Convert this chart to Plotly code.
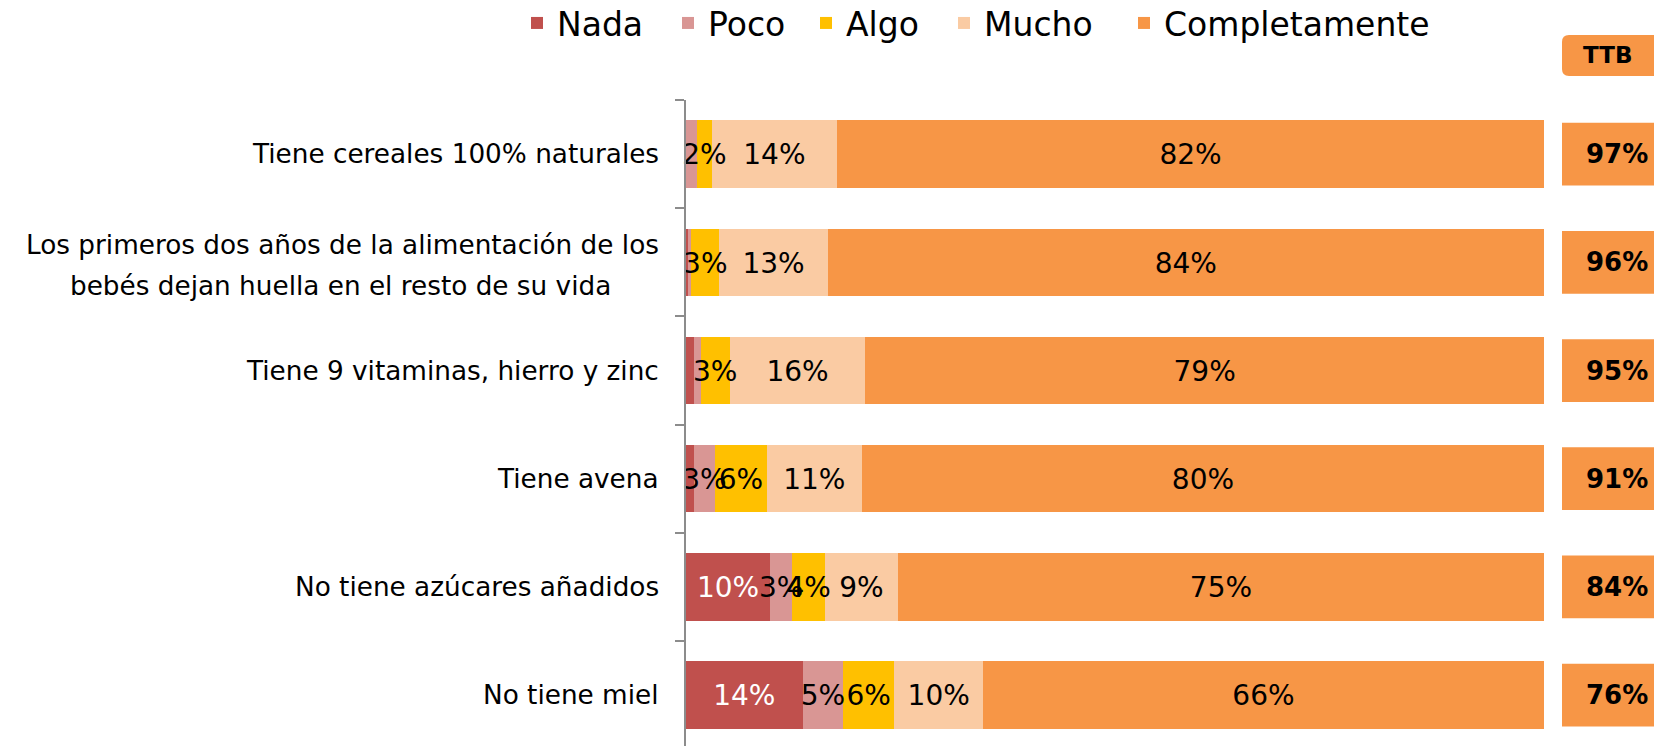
import numpy as np
import plotly.graph_objects as go

categories = [
    "Tiene cereales 100% naturales",
    "Los primeros dos años de la alimentación de los<br>bebés dejan huella en el resto de su vida",
    "Tiene 9 vitaminas, hierro y zinc",
    "Tiene avena",
    "No tiene azúcares añadidos",
    "No tiene miel",
]
series_names = ["Nada", "Poco", "Algo", "Mucho", "Completamente"]

nada = [0.0, 0.2, 0.9, 0.9, 9.8, 13.6]
poco = [1.3, 0.4, 0.8, 2.5, 2.6, 4.7]
algo = [1.7, 3.3, 3.4, 6.0, 3.8, 6.0]
mucho = [14.6, 12.6, 15.8, 11.1, 8.5, 10.3]
completamente = [82.4, 83.5, 79.1, 79.5, 75.3, 65.4]

nada_labels = ["", "", "", "", "10%", "14%"]
poco_labels = ["", "", "", "3%", "3%", "5%"]
algo_labels = ["2%", "3%", "3%", "6%", "4%", "6%"]
mucho_labels = ["14%", "13%", "16%", "11%", "9%", "10%"]
completamente_labels = ["82%", "84%", "79%", "80%", "75%", "66%"]

ttb_values = ["97%", "96%", "95%", "91%", "84%", "76%"]
ttb_header = "TTB"

colors = ["#C0504D", "#D99694", "#FFC000", "#FACBA3", "#F79646"]
text_colors = ["#FFFFFF", "#000000", "#000000", "#000000", "#000000"]

FONT = "DejaVu Sans"
W, H = 1654, 746
ML, MT = 686, 100
PW, PH = W - ML, H - MT
Y_RANGE = [5.47, -0.5]
TEXT_DROP = 0.03  # category units, nudges segment labels slightly down


def px_x(px):
    return (px - ML) / PW


def px_y(py):
    return 1 + (MT - py) / PH


legend_ids = ["legend", "legend2", "legend3", "legend4", "legend5"]
legend_text_x = [558, 709, 847, 985, 1165]

fig = go.Figure()
all_vals = [nada, poco, algo, mucho, completamente]
all_labels = [nada_labels, poco_labels, algo_labels, mucho_labels, completamente_labels]
for name, vals, c, lg in zip(series_names, all_vals, colors, legend_ids):
    fig.add_trace(go.Bar(
        name=name, y=categories, x=vals, orientation="h",
        marker=dict(color=c, line=dict(width=0)),
        hoverinfo="skip", legend=lg,
    ))

# Segment labels drawn above all bars, at each segment's middle
vals_arr = np.array(all_vals, dtype=float)
ends = np.cumsum(vals_arr, axis=0)
mids = ends - vals_arr / 2
for s, (labels, tc) in enumerate(zip(all_labels, text_colors)):
    fig.add_trace(go.Scatter(
        x=mids[s], y=categories, mode="text", text=labels,
        textposition="middle center", yaxis="y2",
        textfont=dict(family=FONT, size=28, color=tc),
        showlegend=False, hoverinfo="skip", cliponaxis=False,
    ))

legend_layout = {}
for lg, tx in zip(legend_ids, legend_text_x):
    legend_layout[lg] = dict(
        orientation="h", x=px_x(tx - 41), xanchor="left",
        y=px_y(23), yanchor="middle",
        font=dict(family=FONT, size=33, color="#000000"),
        itemwidth=30, bgcolor="rgba(0,0,0,0)",
    )

fig.update_layout(
    width=W, height=H,
    margin=dict(l=ML, r=0, t=MT, b=0, autoexpand=False),
    barmode="stack", bargap=0.376,
    plot_bgcolor="white", paper_bgcolor="white",
    font=dict(family=FONT, color="#000000"),
    xaxis=dict(domain=[0, px_x(1544)], range=[0, 100], visible=False, fixedrange=True),
    yaxis=dict(
        type="category", categoryorder="array", categoryarray=categories,
        range=Y_RANGE, autorange=False,
        showline=True, linecolor="#8C8C8C", linewidth=2,
        ticks="outside", tickson="boundaries", ticklen=9, tickcolor="#8C8C8C", tickwidth=2,
        showticklabels=False,
        showgrid=False, zeroline=False, fixedrange=True,
    ),
    yaxis2=dict(
        type="category", categoryorder="array", categoryarray=categories,
        range=[Y_RANGE[0] - TEXT_DROP, Y_RANGE[1] - TEXT_DROP], autorange=False,
        overlaying="y", visible=False, fixedrange=True,
    ),
    showlegend=True,
    **legend_layout,
)

# Category labels: lines centred on each other, right edge near the axis
for cat in categories:
    lines = cat.split("<br>")
    if len(lines) == 1:
        fig.add_annotation(
            x=px_x(661), xref="paper", xanchor="right",
            y=cat, yref="y", yanchor="middle",
            text=cat, showarrow=False,
            font=dict(family=FONT, size=26.3, color="#000000"),
        )
    else:
        for line, ys, right in zip(lines, [17.5, -23.5], [661, 613]):
            fig.add_annotation(
                x=px_x(right), xref="paper", xanchor="right",
                y=cat, yref="y", yanchor="middle",
                text=line, showarrow=False, yshift=ys,
                font=dict(family=FONT, size=26.3, color="#000000"),
            )

# TTB value boxes (shapes) and texts
for i, (cat, v) in enumerate(zip(categories, ttb_values)):
    fig.add_shape(type="rect", xref="paper", yref="y",
                  x0=px_x(1562), x1=1.02, y0=i - 0.29, y1=i + 0.29,
                  fillcolor="#F79646", line=dict(width=0), layer="below")
    fig.add_annotation(
        x=px_x(1650), xref="paper", xanchor="right",
        y=cat, yref="y", yanchor="middle",
        text=f"<b>{v}</b>", showarrow=False,
        font=dict(family=FONT, size=26, color="#000000"),
    )

# TTB header rounded box
x0, x1 = px_x(1562), px_x(1672)
y0, y1 = px_y(76), px_y(35)
rx, ry = 7 / PW, 7 / PH
path = (f"M {x0+rx},{y1} L {x1-rx},{y1} Q {x1},{y1} {x1},{y1-ry} L {x1},{y0+ry} "
        f"Q {x1},{y0} {x1-rx},{y0} L {x0+rx},{y0} Q {x0},{y0} {x0},{y0+ry} "
        f"L {x0},{y1-ry} Q {x0},{y1} {x0+rx},{y1} Z")
fig.add_shape(type="path", path=path, xref="paper", yref="paper",
              fillcolor="#F79646", line=dict(width=0), layer="below")
fig.add_annotation(
    x=px_x(1607), xref="paper", xanchor="center",
    y=px_y(55), yref="paper", yanchor="middle",
    text=f"<b>{ttb_header}</b>", showarrow=False,
    font=dict(family=FONT, size=23, color="#000000"),
)

fig.write_html("out.html", config={"displayModeBar": False},
               post_script="document.body.style.margin='0';")
